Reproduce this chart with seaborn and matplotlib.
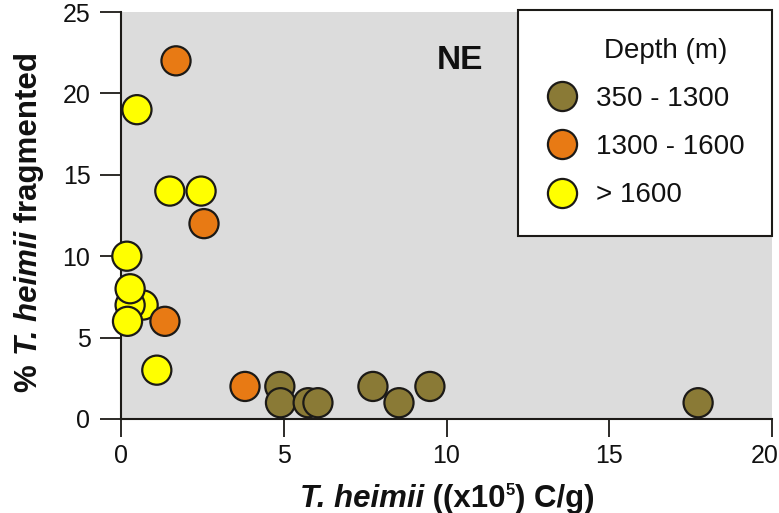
import matplotlib
matplotlib.use("Agg")
import matplotlib.pyplot as plt
import matplotlib.transforms as mtransforms
import seaborn as sns
import pandas as pd

# Abundance (x10^5 C/g) and fragmentation (%) per sample, grouped by depth class
x_shallow = [4.88, 4.90, 5.75, 6.05, 7.74, 8.54, 9.49, 17.73]
y_shallow = [2, 1, 1, 1, 2, 1, 2, 1]

x_mid = [1.69, 2.55, 1.35, 3.81]
y_mid = [22, 12, 6, 2]

x_deep = [0.49, 1.50, 2.46, 0.18, 0.68, 0.28, 0.28, 0.20, 1.10]
y_deep = [19, 14, 14, 10, 7, 7, 8, 6, 3]

depth_classes = ["350 - 1300", "1300 - 1600", "> 1600"]
class_colors = ["#8a7a36", "#e87a14", "#ffff00"]

x_ticks = [0, 5, 10, 15, 20]
y_ticks = [0, 5, 10, 15, 20, 25]

df = pd.DataFrame({
    "abundance": x_deep + x_mid + x_shallow,
    "fragmented": y_deep + y_mid + y_shallow,
    "Depth": [depth_classes[2]] * len(x_deep)
             + [depth_classes[1]] * len(x_mid)
             + [depth_classes[0]] * len(x_shallow),
})

sns.set_theme(style="white")
plt.rcParams["font.family"] = ["Liberation Sans", "DejaVu Sans"]

W, H = 779, 513
fig = plt.figure(figsize=(W / 100, H / 100), dpi=100)
ax = fig.add_axes([121 / W, 94 / H, 651 / W, 407 / H])
ax.set_facecolor("#dcdcdc")

sns.scatterplot(
    data=df, x="abundance", y="fragmented", hue="Depth",
    hue_order=depth_classes, palette=dict(zip(depth_classes, class_colors)),
    s=440, edgecolor="#1c1a17", linewidth=1.6, alpha=1, ax=ax, zorder=3,
    clip_on=False,
)

ax.set_xlim(0, 20)
ax.set_ylim(0, 25)
ax.set_xticks(x_ticks)
ax.set_yticks(y_ticks)
ax.tick_params(axis="both", direction="out", width=1.3, color="#1c1a17",
               labelcolor="#111111", bottom=True, left=True)
ax.tick_params(axis="y", length=15, labelsize=18, pad=7)
ax.tick_params(axis="x", length=13, labelsize=18, pad=5)

# keep the last x tick label inside the canvas
last = ax.get_xticklabels()[-1]
last.set_transform(last.get_transform()
                   + mtransforms.ScaledTranslation(-7 / 100, 0, fig.dpi_scale_trans))

for side in ("top", "right"):
    ax.spines[side].set_visible(False)
for side in ("left", "bottom"):
    ax.spines[side].set_color("#1c1a17")
    ax.spines[side].set_linewidth(1.5)
ax.set_xlabel("")
ax.set_ylabel("")

ax.text(10.4, 22.0, "NE", fontsize=24, fontweight="bold",
        ha="center", va="center", color="#111111")

leg = ax.legend(
    title="Depth (m)", loc="upper right", bbox_to_anchor=(1.0, 1.005),
    fontsize=20, title_fontsize=20, frameon=True, fancybox=False,
    edgecolor="#1c1a17", framealpha=1, facecolor="white",
    borderpad=1.0, labelspacing=0.8, handletextpad=0.6,
    handlelength=1.2, borderaxespad=0, markerscale=1.0,
)
leg.get_frame().set_linewidth(1.5)
leg._legend_box.align = "center"
# title sits over the label column rather than the whole box
leg.get_title().set_x(21)
leg.get_title().set_color("#111111")
for t in leg.get_texts():
    t.set_color("#111111")


def draw_label(pieces, center, baseline, vertical=False):
    """Lay out mixed-style text runs one after another along a line (pixels)."""
    fig.canvas.draw()
    renderer = fig.canvas.get_renderer()
    rot = 90 if vertical else 0
    texts = []
    for txt, props, rise in pieces:
        t = fig.text(0, 0, txt, rotation=rot, rotation_mode="anchor",
                     ha="left", va="baseline", color="#111111",
                     transform=None, **props)
        texts.append(t)
    lengths = []
    for t in texts:
        bb = t.get_window_extent(renderer)
        lengths.append(bb.height if vertical else bb.width)
    pos = center - sum(lengths) / 2
    for (txt, props, rise), t, n in zip(pieces, texts, lengths):
        if vertical:
            t.set_position((baseline - rise, pos))
        else:
            t.set_position((pos, baseline + rise))
        pos += n


bold = dict(fontsize=22.5, fontweight="bold")
bold_it = dict(fontsize=22.5, fontweight="bold", fontstyle="italic")
sup = dict(fontsize=12, fontweight="bold")

# x-axis title (pixel coordinates measured from bottom-left)
draw_label(
    [("T. heimii", bold_it, 0), (" ((x10", bold, 0),
     ("5", sup, 12), (") C/g)", bold, 0)],
    center=447, baseline=H - 507,
)

# y-axis title, reading bottom to top
draw_label(
    [("% ", bold, 0), ("T. heimii", bold_it, 0), (" fragmented", bold, 0)],
    center=H - 222, baseline=37, vertical=True,
)

fig.savefig("out.png", dpi=100)
